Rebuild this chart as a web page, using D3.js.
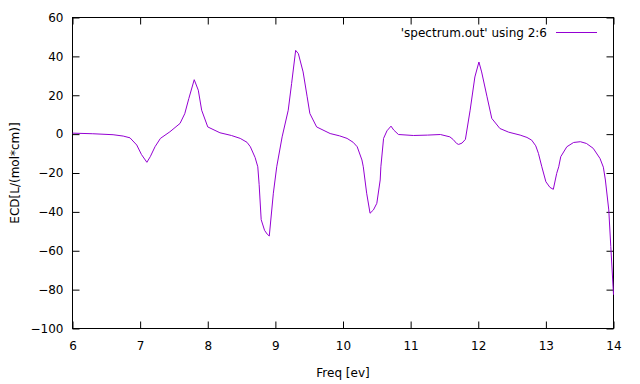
<!DOCTYPE html>
<html>
<head>
<meta charset="utf-8">
<script src="https://cdn.jsdelivr.net/npm/d3@7"></script>
<style>
    body { margin: 0; background: #fff; }
    text { font-family: "DejaVu Sans", sans-serif; font-size: 12px; fill: #000; }
</style>
</head>
<body>
<svg id="chart" width="640" height="384"></svg>
<script>
(function () {
    'use strict';

    // ECD spectrum (freq in eV, ECD in L/(mol*cm))
    var freq = [6.0, 6.3, 6.6, 6.75, 6.85, 6.95, 7.02, 7.1, 7.15, 7.22, 7.3, 7.44, 7.59, 7.66, 7.72, 7.8, 7.86, 7.91, 8.0,
        8.18, 8.35, 8.48, 8.58, 8.63, 8.7, 8.74, 8.76, 8.79, 8.84, 8.88, 8.91, 8.97, 9.02, 9.1, 9.19, 9.24, 9.3, 9.34, 9.41,
        9.47, 9.51, 9.61, 9.81, 9.95, 10.06, 10.15, 10.21, 10.28, 10.3, 10.35, 10.4, 10.45, 10.5, 10.55, 10.56, 10.6,
        10.65, 10.71, 10.75, 10.82, 11.04, 11.25, 11.44, 11.58, 11.63, 11.68, 11.71, 11.76, 11.81, 11.88, 11.95, 12.01,
        12.05, 12.13, 12.2, 12.32, 12.45, 12.62, 12.72, 12.79, 12.85, 12.89, 12.94, 13.0, 13.06, 13.11, 13.16, 13.19,
        13.22, 13.31, 13.41, 13.51, 13.6, 13.7, 13.8, 13.85, 13.88, 13.93, 13.96, 14.0];
    var ecd = [0.5, 0.2, -0.3, -1.0, -1.9, -5.6, -10.5, -14.5, -11.6, -6.5, -2.2, 1.2, 5.5, 10.5, 18.3, 28, 22.6, 12.3, 3.7,
        0.7, -0.7, -2.2, -4.2, -6.5, -12, -16.8, -26, -44, -49.5, -51.5, -52.4, -30.4, -16.8, -1.4, 12.3, 26, 43.1, 41.4, 32,
        19.2, 10.6, 3.7, 0.3, -0.9, -2.2, -4.2, -6.5, -13.3, -16.8, -30.4, -40.7, -39, -35.6, -23.6, -16.8, -2.2,
        1.7, 4.1, 2.1, -0.2, -0.7, -0.5, -0.2, -1.4, -2.8, -4.8, -5.3, -4.6, -2.7, 12.3, 29.4, 37.1,
        32, 19.2, 8.1, 2.9, 1.0, -0.5, -1.7, -3.1, -6.0, -9.9, -16.8, -24.5, -27.4, -28.4, -20.2, -16.8,
        -11.6, -6.5, -4.3, -3.9, -4.8, -7.3, -12.5, -17, -23.6, -39, -57.8, -82.6];

    var xTicks = [6, 7, 8, 9, 10, 11, 12, 13, 14];
    var yTicks = [60, 40, 20, 0, -20, -40, -60, -80, -100];

    var left = 72.5, right = 613.5, top = 17.5, bottom = 328.5,
        tickLen = 7;

    var svg = d3.select('#chart');

    var x = d3.scaleLinear().domain([6, 14]).range([left, right]);
    var y = d3.scaleLinear().domain([-100, 60]).range([bottom, top]);

    // axes, ticks drawn inward and mirrored like gnuplot
    svg.append('g')
        .attr('transform', 'translate(0,' + bottom + ')')
        .call(d3.axisBottom(x).tickValues(xTicks).tickSize(-tickLen).tickPadding(13).tickFormat(d3.format('d')))
        .call(function (g) { g.select('.domain').remove(); });

    svg.append('g')
        .attr('transform', 'translate(0,' + top + ')')
        .call(d3.axisTop(x).tickValues(xTicks).tickSize(-tickLen).tickFormat(''))
        .call(function (g) { g.select('.domain').remove(); });

    svg.append('g')
        .attr('transform', 'translate(' + left + ',0)')
        .call(d3.axisLeft(y).tickValues(yTicks).tickSize(-tickLen).tickPadding(9).tickFormat(d3.format('d')))
        .call(function (g) { g.select('.domain').remove(); });

    svg.append('g')
        .attr('transform', 'translate(' + right + ',0)')
        .call(d3.axisRight(y).tickValues(yTicks).tickSize(-tickLen).tickFormat(''))
        .call(function (g) { g.select('.domain').remove(); });

    svg.selectAll('.tick line').attr('stroke', '#000');
    svg.selectAll('.tick text')
        .style('font-family', '"DejaVu Sans", sans-serif')
        .style('font-size', '12px')
        .attr('fill', '#000');

    // frame
    svg.append('rect')
        .attr('x', left).attr('y', top)
        .attr('width', right - left).attr('height', bottom - top)
        .attr('fill', 'none')
        .attr('stroke', '#000')
        .attr('stroke-width', 1);

    // curve
    var line = d3.line()
        .x(function (d, i) { return x(freq[i]); })
        .y(function (d) { return y(d); });

    svg.append('path')
        .datum(ecd)
        .attr('d', line)
        .attr('fill', 'none')
        .attr('stroke', '#9400d3')
        .attr('stroke-width', 1);

    // legend
    svg.append('text')
        .attr('x', 547).attr('y', 37)
        .attr('text-anchor', 'end')
        .text("'spectrum.out' using 2:6");

    svg.append('line')
        .attr('x1', 556).attr('x2', 597)
        .attr('y1', 32.5).attr('y2', 32.5)
        .attr('stroke', '#9400d3')
        .attr('stroke-width', 1);

    // axis titles
    svg.append('text')
        .attr('x', 343).attr('y', 377)
        .attr('text-anchor', 'middle')
        .text('Freq [ev]');

    svg.append('text')
        .attr('transform', 'translate(19,173) rotate(-90)')
        .attr('text-anchor', 'middle')
        .text('ECD[L/(mol*cm)]');
}());
</script>
</body>
</html>
